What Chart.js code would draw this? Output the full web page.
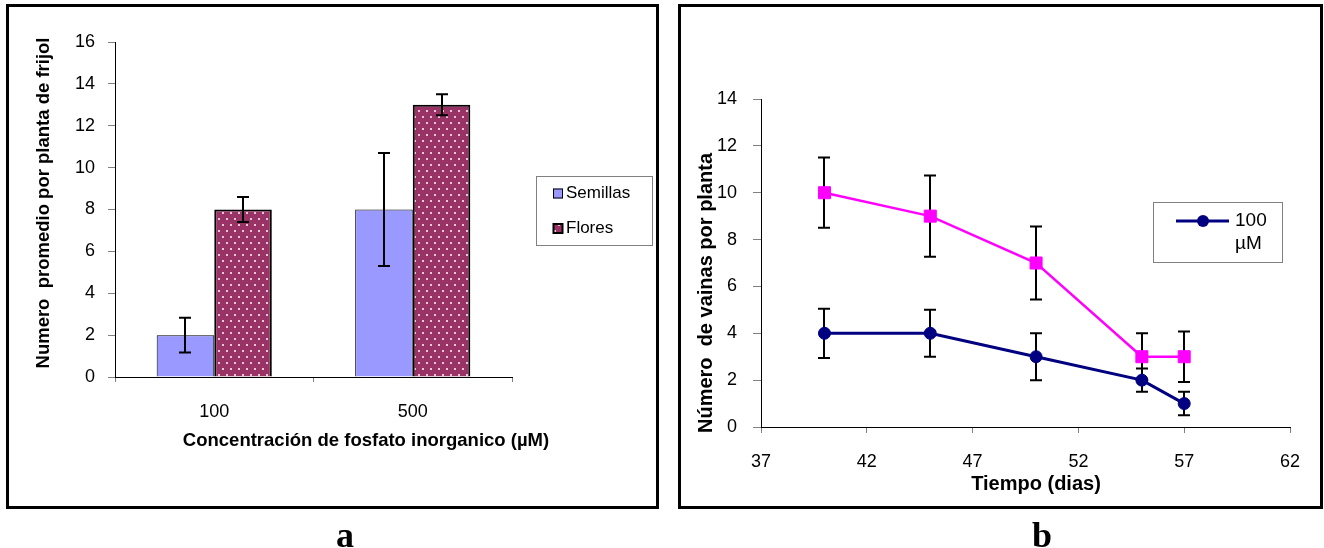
<!DOCTYPE html>
<html>
<head>
<meta charset="utf-8">
<script src="https://cdn.jsdelivr.net/npm/chart.js@4.4.0/dist/chart.umd.min.js"></script>
<style>
  body { margin: 0; background: #fff; }
  #page { position: relative; width: 1324px; height: 548px; overflow: hidden; background: #fff; }
  .panel { position: absolute; border: 3px solid #000; box-sizing: border-box; }
  canvas { position: absolute; top: 0; }
  .tag { position: absolute; width: 40px; text-align: center; line-height: 36px;
         font: bold 36px "Liberation Serif", "Times New Roman", serif; color: #000; }
</style>
</head>
<body>
<div id="page">
  <div class="panel" style="left:6px;top:4px;width:653px;height:505px"></div>
  <div class="panel" style="left:678px;top:4px;width:645px;height:505px"></div>
  <canvas id="chartA" width="668" height="548" style="left:0"></canvas>
  <canvas id="chartB" width="656" height="548" style="left:668px"></canvas>
  <div class="tag" style="left:325px;top:514px">a</div>
  <div class="tag" style="left:1022px;top:514px">b</div>
</div>

<script>
// --- chart a: bars by phosphate concentration
const concLabels = ['100', '500'];
const semillas = [2, 8];
const semillasErr = [0.83, 2.7];
const flores = [8, 13];
const floresErr = [0.6, 0.5];

// --- chart b: pods per plant over time
const dias = [40, 45, 50, 55, 57];
const vainas100 = [4, 4, 3, 2, 1];
const vainas100Err = [1.05, 1.0, 1.0, 0.5, 0.5];
const vainas500 = [10, 9, 7, 3, 3];
const vainas500Err = [1.5, 1.73, 1.56, 1.0, 1.08];

const FONT = '"Liberation Sans", Arial, sans-serif';
Chart.defaults.font.family = FONT;
Chart.defaults.color = '#000';
Chart.defaults.animation = false;

// dark magenta fill with small white dots (like the excel pattern)
function dotPattern(ctx) {
  const c = document.createElement('canvas');
  c.width = 8; c.height = 12;
  const p = c.getContext('2d');
  p.fillStyle = '#993366';
  p.fillRect(0, 0, 8, 12);
  p.fillStyle = '#e8c6d8';
  p.fillRect(2, 2, 2, 2);
  p.fillRect(6, 8, 2, 2);
  return ctx.createPattern(c, 'repeat');
}

function drawText(ctx, text, x, y, font, rotated) {
  ctx.save();
  ctx.translate(x, y);
  if (rotated) ctx.rotate(-Math.PI / 2);
  ctx.font = font;
  ctx.fillStyle = '#000';
  ctx.textAlign = 'center';
  ctx.textBaseline = 'middle';
  ctx.fillText(text, 0, 0);
  ctx.restore();
}

// vertical error bars with caps, from each dataset's "errors" array
function paintErrors(chart) {
  const ctx = chart.ctx;
  const yScale = chart.scales.y;
  ctx.save();
  ctx.strokeStyle = '#000';
  ctx.lineWidth = 2;
  chart.data.datasets.forEach((ds, i) => {
    if (!ds.errors) return;
    const meta = chart.getDatasetMeta(i);
    meta.data.forEach((el, j) => {
      const raw = ds.data[j];
      const v = typeof raw === 'object' ? raw.y : raw;
      const e = ds.errors[j];
      const top = yScale.getPixelForValue(v + e);
      const bot = yScale.getPixelForValue(v - e);
      const x = Math.round(el.x);
      ctx.beginPath();
      ctx.moveTo(x, top); ctx.lineTo(x, bot);
      ctx.moveTo(x - 6, top); ctx.lineTo(x + 6, top);
      ctx.moveTo(x - 6, bot); ctx.lineTo(x + 6, bot);
      ctx.stroke();
    });
  });
  ctx.restore();
}

const errorBars = {
  id: 'errorBars',
  beforeDatasetsDraw(chart, args, opts) { if (opts.behind) paintErrors(chart); },
  afterDatasetsDraw(chart, args, opts) { if (!opts.behind) paintErrors(chart); }
};

// ---------------- chart a ----------------
const ctxA = document.getElementById('chartA').getContext('2d');

const textsA = {
  id: 'textsA',
  afterDraw(chart) {
    const ctx = chart.ctx;
    drawText(ctx, 'Numero  promedio por planta de frijol', 44, 203, 'bold 18.5px ' + FONT, true);
    drawText(ctx, 'Concentración de fosfato inorganico (µM)', 366, 441, 'bold 18.5px ' + FONT, false);

    // legend box
    ctx.save();
    ctx.strokeStyle = '#808080';
    ctx.lineWidth = 1;
    ctx.strokeRect(536.5, 176.5, 116, 69);
    ctx.font = '17px ' + FONT;
    ctx.textBaseline = 'middle';
    chart.data.datasets.forEach((ds, i) => {
      const y = 193.5 + i * 35;
      ctx.fillStyle = ds.backgroundColor;
      ctx.fillRect(553, y - 5, 10, 10);
      ctx.strokeStyle = '#000';
      ctx.lineWidth = ds.borderWidth;
      ctx.strokeRect(553.5, y - 4.5, 9, 9);
      ctx.fillStyle = '#000';
      ctx.fillText(ds.label, 566, y);
    });
    ctx.restore();
  }
};

new Chart(ctxA, {
  type: 'bar',
  data: {
    labels: concLabels,
    datasets: [
      { label: 'Semillas', data: semillas, errors: semillasErr,
        backgroundColor: '#9999ff', borderColor: '#000', borderWidth: 1 },
      { label: 'Flores', data: flores, errors: floresErr,
        backgroundColor: dotPattern(ctxA), borderColor: '#000', borderWidth: 2 }
    ]
  },
  options: {
    responsive: false,
    categoryPercentage: 0.58,
    barPercentage: 1,
    layout: { padding: { left: 55, right: 156, top: 42, bottom: 131 } },
    scales: {
      x: {
        grid: { drawOnChartArea: false, tickLength: 5, color: '#808080' },
        border: { color: '#000', width: 1 },
        ticks: { font: { size: 18 }, padding: 19 },
        afterFit: s => { s.height = 40; }
      },
      y: {
        min: 0, max: 16,
        ticks: { stepSize: 2, font: { size: 18 }, padding: 13 },
        grid: { drawOnChartArea: false, tickLength: 7, color: '#808080' },
        border: { color: '#000', width: 1 },
        afterFit: s => { s.width = 60; }
      }
    },
    plugins: {
      legend: { display: false },
      tooltip: { enabled: false },
      errorBars: { behind: false }
    }
  },
  plugins: [errorBars, textsA]
});

// ---------------- chart b ----------------
const ctxB = document.getElementById('chartB').getContext('2d');

const textsB = {
  id: 'textsB',
  afterDraw(chart) {
    const ctx = chart.ctx;
    drawText(ctx, 'Número  de vainas por planta', 38, 293, 'bold 20px ' + FONT, true);
    drawText(ctx, 'Tiempo (dias)', 368, 484, 'bold 20px ' + FONT, false);

    // legend: only the first series is listed
    const ds = chart.data.datasets[0];
    ctx.save();
    ctx.strokeStyle = '#808080';
    ctx.lineWidth = 1;
    ctx.strokeRect(485.5, 202.5, 129, 60);
    ctx.strokeStyle = ds.borderColor;
    ctx.lineWidth = ds.borderWidth;
    ctx.beginPath();
    ctx.moveTo(508, 221); ctx.lineTo(561, 221);
    ctx.stroke();
    ctx.fillStyle = ds.backgroundColor;
    ctx.beginPath();
    ctx.arc(535, 221, ds.pointRadius, 0, Math.PI * 2);
    ctx.fill();
    ctx.fillStyle = '#000';
    ctx.font = '19px ' + FONT;
    ctx.textBaseline = 'middle';
    ds.label.split(' ').forEach((part, i) => ctx.fillText(part, 567, 221 + i * 23));
    ctx.restore();
  }
};

new Chart(ctxB, {
  type: 'line',
  data: {
    datasets: [
      { label: '100 µM', data: dias.map((d, i) => ({ x: d, y: vainas100[i] })), errors: vainas100Err,
        borderColor: '#000080', backgroundColor: '#000080', borderWidth: 3,
        pointStyle: 'circle', pointRadius: 6, pointBorderWidth: 1 },
      { label: '500 µM', data: dias.map((d, i) => ({ x: d, y: vainas500[i] })), errors: vainas500Err,
        borderColor: '#ff00ff', backgroundColor: '#ff00ff', borderWidth: 2.5,
        pointStyle: 'rect', pointRadius: 8.5, pointBorderWidth: 1 }
    ]
  },
  options: {
    responsive: false,
    layout: { padding: { left: 43, right: 34, top: 99, bottom: 81 } },
    scales: {
      x: {
        type: 'linear', min: 37, max: 62,
        ticks: { stepSize: 5, font: { size: 18 }, padding: 18 },
        grid: { drawOnChartArea: false, tickLength: 6, color: '#808080' },
        border: { color: '#000', width: 1 },
        afterFit: s => { s.height = 40; }
      },
      y: {
        min: 0, max: 14,
        ticks: { stepSize: 2, font: { size: 18 }, padding: 16 },
        grid: { drawOnChartArea: false, tickLength: 8, color: '#808080' },
        border: { color: '#000', width: 1 },
        afterFit: s => { s.width = 50; }
      }
    },
    plugins: {
      legend: { display: false },
      tooltip: { enabled: false },
      errorBars: { behind: true }
    }
  },
  plugins: [errorBars, textsB]
});
</script>
</body>
</html>
